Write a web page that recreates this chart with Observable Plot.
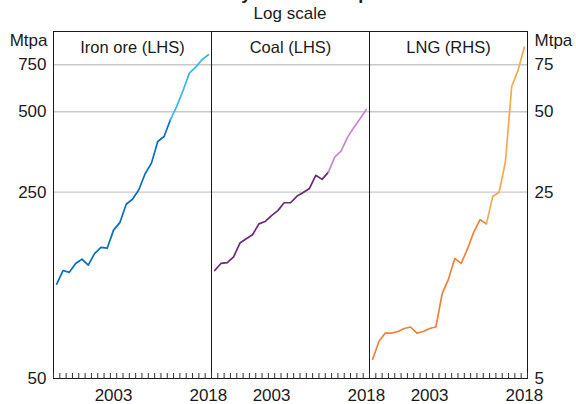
<!DOCTYPE html>
<html>
<head>
<meta charset="utf-8">
<script src="https://cdn.jsdelivr.net/npm/d3@7"></script>
<script src="https://cdn.jsdelivr.net/npm/@observablehq/plot@0.6"></script>
<style>
  html, body { margin: 0; padding: 0; background: #fff; }
  #wrap { position: relative; width: 576px; height: 404px; overflow: hidden;
          font-family: "Liberation Sans", Arial, sans-serif; color: #1a1a1a; }
  #title { position: absolute; left: 0; width: 580px; top: -17px; text-align: center;
           font-weight: bold; font-size: 18px; line-height: 20px; white-space: nowrap; }
  #subtitle { position: absolute; left: 0; width: 580px; top: 4px; text-align: center;
              font-size: 17px; line-height: 20px; }
  #chart { position: absolute; left: 0; top: 22px; }
</style>
</head>
<body>
<div id="wrap">
  <div id="title">Bulk Commodity and LNG Export Volumes</div>
  <div id="subtitle">Log scale</div>
  <div id="chart"></div>
</div>
<script>
// ---- Data (annual, million tonnes per annum) ----
const panels = ["Iron ore (LHS)", "Coal (LHS)", "LNG (RHS)"];
const years = [1994, 1995, 1996, 1997, 1998, 1999, 2000, 2001, 2002, 2003, 2004, 2005, 2006,
               2007, 2008, 2009, 2010, 2011, 2012, 2013, 2014, 2015, 2016, 2017, 2018];
const ironOre = [113, 127, 125, 135, 140, 133, 147, 155, 154, 180, 192, 225, 235,
                 255, 293, 321, 387, 404, 467, 524, 601, 698, 735, 784, 818];
const coal = [127, 135, 136, 143, 161, 167, 173, 190, 194, 204, 213, 228, 228,
              241, 249, 258, 289, 279, 297, 338, 356, 400, 436, 471, 510];
const lng = [5.9, 6.9, 7.4, 7.4, 7.5, 7.7, 7.8, 7.4, 7.5, 7.7, 7.8, 10.4, 11.8,
             14.1, 13.5, 15.3, 17.7, 19.7, 19.0, 24.1, 24.9, 32.4, 62.2, 71.5, 87.4];
const splitYear = 2012;                 // colour changes to the lighter shade from here
const lhsTicks = [50, 250, 500, 750];   // Mtpa, left axis
const rhsTicks = [5, 25, 50, 75];       // Mtpa, right axis
const rhsFactor = 10;                   // LHS units per RHS unit
const xTickLabels = [2003, 2018];

const series = [
  {panel: panels[0], values: ironOre, factor: 1, dark: "#0B6EBB", light: "#3BB5E8"},
  {panel: panels[1], values: coal, factor: 1, dark: "#6A2A79", light: "#C18ACB"},
  {panel: panels[2], values: lng, factor: rhsFactor, dark: "#F2823A", light: "#FAA84C"}
];

const rows = series.flatMap(s => years.flatMap((year, i) => {
  const out = [];
  if (year <= splitYear) out.push({panel: s.panel, year, value: s.values[i], factor: s.factor, seg: "a", color: s.dark});
  if (year >= splitYear) out.push({panel: s.panel, year, value: s.values[i], factor: s.factor, seg: "b", color: s.light});
  return out;
}));

// year boundaries for the minor tick marks
const yearEdges = years.map(y => y - 0.5).concat([years[years.length - 1] + 0.5]);

const chart = Plot.plot({
  width: 576,
  height: 382,
  marginTop: 9,
  marginBottom: 26,
  marginLeft: 53,
  marginRight: 49,
  style: {fontFamily: "Liberation Sans, Arial, sans-serif", fontSize: "17px", color: "#1a1a1a", background: "transparent"},
  fx: {domain: panels, padding: 0, axis: null},
  x: {domain: [yearEdges[0], yearEdges[yearEdges.length - 1]], label: null},
  y: {type: "log", domain: [50, 1000], label: null, axis: null},
  marks: [
    Plot.gridY(lhsTicks.slice(1), {stroke: "#c8c8c8", strokeOpacity: 1, strokeWidth: 1.4}),
    Plot.lineY(rows, {fx: "panel", x: "year", y: d => d.value * d.factor, z: d => d.panel + d.seg,
                      stroke: "color", strokeWidth: 1.7}),
    Plot.frame({stroke: "#1a1a1a", strokeWidth: 1}),
    Plot.tickX(yearEdges, {x: d => d, insetTop: 342, stroke: "#333", strokeWidth: 1}),
    Plot.axisX(xTickLabels, {tickSize: 0, tickPadding: 10, fontSize: 17, label: null, tickFormat: d => String(d)}),
    Plot.text(lhsTicks, {fx: () => panels[0], y: d => d, text: d => String(d), frameAnchor: "left",
                         textAnchor: "end", dx: -7, fontSize: 17}),
    Plot.text(rhsTicks, {fx: () => panels[2], y: d => d * rhsFactor, text: d => String(d), frameAnchor: "right",
                         textAnchor: "start", dx: 7, fontSize: 17}),
    Plot.text(panels, {fx: d => d, text: d => d, frameAnchor: "top", lineAnchor: "top", dy: 9.3, fontSize: 16.5}),
    Plot.text(["Mtpa"], {fx: () => panels[0], text: d => d, frameAnchor: "top-left", textAnchor: "end",
                         lineAnchor: "top", dx: -6, dy: 2, fontSize: 17}),
    Plot.text(["Mtpa"], {fx: () => panels[2], text: d => d, frameAnchor: "top-right", textAnchor: "start",
                         lineAnchor: "top", dx: 7, dy: 2, fontSize: 17})
  ]
});
document.getElementById("chart").appendChild(chart);
</script>
</body>
</html>
